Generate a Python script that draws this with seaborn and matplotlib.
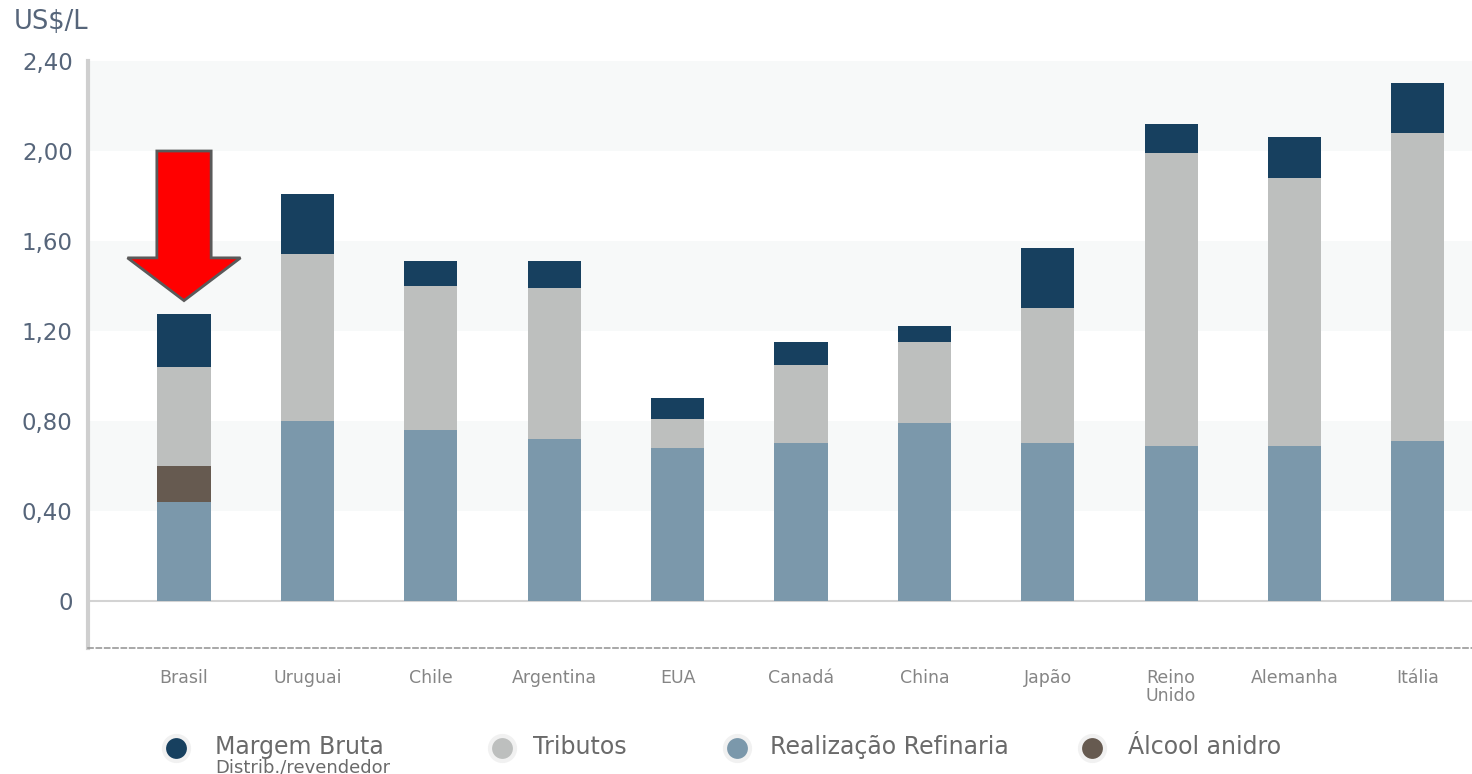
import matplotlib
matplotlib.use("Agg")
import matplotlib.pyplot as plt
import matplotlib.patches as mpatches
from matplotlib.lines import Line2D
import seaborn as sns
import pandas as pd

countries = ["Brasil", "Uruguai", "Chile", "Argentina", "EUA", "Canadá", "China",
             "Japão", "Reino\nUnido", "Alemanha", "Itália"]
refinaria = [0.44, 0.80, 0.76, 0.72, 0.68, 0.70, 0.79, 0.70, 0.69, 0.69, 0.71]
alcool    = [0.16, 0.00, 0.00, 0.00, 0.00, 0.00, 0.00, 0.00, 0.00, 0.00, 0.00]
tributos  = [0.44, 0.74, 0.64, 0.67, 0.13, 0.35, 0.36, 0.60, 1.30, 1.19, 1.37]
margem    = [0.235, 0.27, 0.11, 0.12, 0.09, 0.10, 0.07, 0.27, 0.13, 0.18, 0.22]
yticks = [0, 0.40, 0.80, 1.20, 1.60, 2.00, 2.40]
ytick_labels = ["0", "0,40", "0,80", "1,20", "1,60", "2,00", "2,40"]
legend_labels = ["Margem Bruta", "Tributos", "Realização Refinaria", "Álcool anidro"]

C_MARGEM = "#17405f"
C_TRIB = "#bdbfbe"
C_REF = "#7b98ab"
C_ALC = "#665a50"

df = pd.DataFrame({"pais": countries, "refinaria": refinaria, "alcool": alcool,
                   "tributos": tributos, "margem": margem})
df["lvl1"] = df["refinaria"]
df["lvl2"] = df["lvl1"] + df["alcool"]
df["lvl3"] = df["lvl2"] + df["tributos"]
df["lvl4"] = df["lvl3"] + df["margem"]

sns.set_style("white")
plt.rcParams["font.family"] = ["DejaVu Sans"]

W, H = 1472, 774
fig = plt.figure(figsize=(W / 100, H / 100), dpi=100)
ax = fig.add_axes([88 / W, 1 - 648 / H, 1384 / W, 587 / H])

# background bands
for lo, hi in [(0.40, 0.80), (1.20, 1.60), (2.00, 2.40)]:
    ax.axhspan(lo, hi, color="#f7f9f9", zorder=0, lw=0)

for col, c in [("lvl4", C_MARGEM), ("lvl3", C_TRIB), ("lvl2", C_ALC), ("lvl1", C_REF)]:
    sns.barplot(data=df, x="pais", y=col, order=countries, color=c, saturation=1,
                width=0.43, errorbar=None, ax=ax, zorder=2, linewidth=0)

ax.axhline(0, color="#d3d3d3", lw=1.5, zorder=1)

ax.set_xlim(-0.778, 10.438)
ax.set_ylim(-0.209, 2.40)
ax.set_xlabel("")
ax.set_ylabel("")

ax.set_yticks(yticks)
ax.set_yticklabels(ytick_labels)
ax.tick_params(axis="y", direction="in", length=17, width=1.5, color="#aaaaaa",
               pad=11, labelsize=16.5, labelcolor="#56657a")
ax.set_xticks(range(len(countries)))
ax.set_xticklabels(countries, linespacing=1.0)
ax.tick_params(axis="x", length=0, pad=15, labelsize=12.5, labelcolor="#858585")

for s in ["top", "right"]:
    ax.spines[s].set_visible(False)
ax.spines["left"].set_color("#cfcfcf")
ax.spines["left"].set_linewidth(3)
ax.spines["bottom"].set_color("#9a9a9a")
ax.spines["bottom"].set_linewidth(1.2)
ax.spines["bottom"].set_linestyle((0, (3, 2)))

# red arrow pointing to Brasil
arrow = mpatches.FancyArrow(0, 2.0, 0, -0.665, width=0.44, head_width=0.916,
                            head_length=0.19, length_includes_head=True,
                            facecolor="#ff0000", edgecolor="#5a5a5a", lw=2, zorder=5)
ax.add_patch(arrow)

# unit label
fig.text(14 / W, 1 - 22 / H, "US$/L", fontsize=18.5, color="#56657a", va="center", ha="left")

# legend
colors = [C_MARGEM, C_TRIB, C_REF, C_ALC]
mx = [176, 502, 737, 1092]
tx = [215, 533, 770, 1128]
for lab, c, m, t in zip(legend_labels, colors, mx, tx):
    fig.add_artist(Line2D([m / W], [1 - 748 / H], marker="o", markersize=18,
                          markerfacecolor=c, markeredgecolor="#f1f1f1",
                          markeredgewidth=3, transform=fig.transFigure, linestyle=""))
    fig.text(t / W, 1 - 747 / H, lab, fontsize=17, color="#6a6a6a", va="center", ha="left")
fig.text(215 / W, 1 - 767 / H, "Distrib./revendedor", fontsize=13, color="#6a6a6a",
         va="center", ha="left")

fig.savefig("out.png", dpi=100)
